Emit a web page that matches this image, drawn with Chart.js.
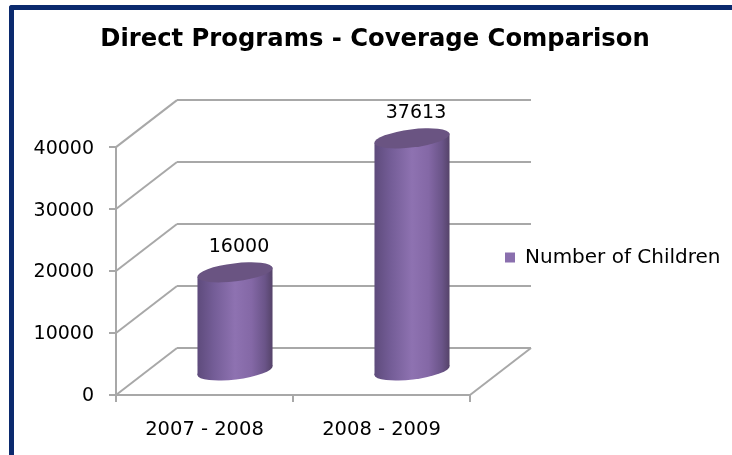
<!DOCTYPE html>
<html>
<head>
<meta charset="utf-8">
<title>Direct Programs - Coverage Comparison</title>
<script src="https://cdn.jsdelivr.net/npm/chart.js@4"></script>
<style>
  html, body { margin: 0; padding: 0; background: #fff; overflow: hidden; }
  .frame {
    position: absolute; left: 9px; top: 5px; right: 0; bottom: 0;
    border-left: 5px solid #0b2a6e; border-top: 5px solid #0b2a6e;
    border-top-left-radius: 3px;
  }
  .wrap { position: absolute; left: 18px; top: 0; width: 714px; height: 455px; }
</style>
</head>
<body>
<div class="frame"></div>
<div class="wrap"><canvas id="coverageChart" width="714" height="455"></canvas></div>
<script>
const years = ['2007 - 2008', '2008 - 2009'];
const children = [16000, 37613];
const yTicks = [0, 10000, 20000, 30000, 40000];

const FONT = '"DejaVu Sans", Verdana, sans-serif';
const GRID = '#a8a8a8';
const DEPTH_X = 61;   // how far the back wall sits behind the front axes
const DEPTH_Y = 47;

function line(ctx, x1, y1, x2, y2) {
  ctx.beginPath();
  ctx.moveTo(x1, y1);
  ctx.lineTo(x2, y2);
  ctx.stroke();
}

// Floor and back wall of the fake 3D box
const wallPlugin = {
  id: 'wall',
  beforeDatasetsDraw(chart) {
    const { ctx, scales: { x, y } } = chart;
    ctx.save();
    ctx.strokeStyle = GRID;
    ctx.lineWidth = 2;
    yTicks.forEach(v => {
      const py = y.getPixelForValue(v);
      line(ctx, x.left, py, x.left + DEPTH_X, py - DEPTH_Y);
      line(ctx, x.left + DEPTH_X, py - DEPTH_Y, x.right + DEPTH_X, py - DEPTH_Y);
    });
    const floor = y.getPixelForValue(0);
    line(ctx, x.right, floor, x.right + DEPTH_X, floor - DEPTH_Y);
    ctx.restore();
  }
};

function tiltedEllipse(ctx, cx, cy, rx, ry) {
  ctx.beginPath();
  ctx.ellipse(cx, cy, rx, ry, -7 * Math.PI / 180, 0, Math.PI * 2);
}

// Bars are drawn as shaded cylinders standing mid-way into the box
const cylinderPlugin = {
  id: 'cylinder',
  beforeDatasetDraw(chart, args) {
    const { ctx } = chart;
    const bars = chart.getDatasetMeta(args.index).data;
    bars.forEach((bar, i) => {
      const cx = bar.x + DEPTH_X / 2;
      const rx = bar.width / 2;
      const top = bar.y - DEPTH_Y / 2;
      const base = bar.base - DEPTH_Y / 2;
      const ry = 9;
      const dy = rx * Math.tan(7 * Math.PI / 180);

      const grad = ctx.createLinearGradient(cx - rx, 0, cx + rx, 0);
      grad.addColorStop(0, '#5e4b7c');
      grad.addColorStop(0.22, '#745d97');
      grad.addColorStop(0.5, '#8e72b1');
      grad.addColorStop(0.72, '#8468a6');
      grad.addColorStop(0.9, '#6a5488');
      grad.addColorStop(1, '#554369');

      ctx.save();
      ctx.fillStyle = grad;
      ctx.beginPath();
      ctx.moveTo(cx - rx, top + dy);
      ctx.lineTo(cx - rx, base + dy);
      ctx.lineTo(cx + rx, base - dy);
      ctx.lineTo(cx + rx, top - dy);
      ctx.closePath();
      ctx.fill();
      tiltedEllipse(ctx, cx, base, rx + 0.4, ry);
      ctx.fill();
      ctx.fillStyle = '#6a5482';
      tiltedEllipse(ctx, cx, top, rx + 0.4, ry);
      ctx.fill();

      ctx.fillStyle = '#000';
      ctx.font = '19px ' + FONT;
      ctx.textAlign = 'center';
      ctx.textBaseline = 'middle';
      ctx.fillText(String(children[i]), cx + 4, top - 25);
      ctx.restore();
    });
    return false;
  }
};

// The legend sits lower than the middle of the canvas and close to the plot
const legendShiftPlugin = {
  id: 'legendShift',
  afterLayout(chart) {
    chart.legend.top += 30;
    chart.legend.bottom += 30;
    chart.legend.left -= 11;
    chart.legend.right -= 11;
  }
};

new Chart(document.getElementById('coverageChart'), {
  type: 'bar',
  data: {
    labels: years,
    datasets: [{
      label: 'Number of Children',
      data: children,
      backgroundColor: '#8a6fae',
      barPercentage: 0.424,
      categoryPercentage: 1
    }]
  },
  plugins: [wallPlugin, cylinderPlugin, legendShiftPlugin],
  options: {
    responsive: false,
    animation: false,
    layout: { padding: 0 },
    scales: {
      x: {
        grid: { display: true, drawOnChartArea: false, color: GRID, lineWidth: 2, tickLength: 7, offset: true },
        border: { color: GRID, width: 2 },
        ticks: { color: '#000', font: { family: FONT, size: 19.5 }, padding: 16, maxRotation: 0 },
        afterFit(scale) { scale.height = 60; }
      },
      y: {
        min: 0,
        max: 40000,
        afterBuildTicks(scale) { scale.ticks = yTicks.map(v => ({ value: v })); },
        grid: { display: true, drawOnChartArea: false, color: GRID, lineWidth: 2, tickLength: 7 },
        border: { color: GRID, width: 2 },
        ticks: { color: '#000', font: { family: FONT, size: 19 }, padding: 15, labelOffset: 1.5, callback: v => String(v) },
        afterFit(scale) { scale.width = 98; }
      }
    },
    plugins: {
      title: {
        display: true,
        text: 'Direct Programs - Coverage Comparison',
        color: '#000',
        font: { family: FONT, size: 24.25, weight: 'bold' },
        padding: { top: 25, bottom: 93 }
      },
      legend: {
        position: 'right',
        maxWidth: 262,
        labels: {
          color: '#000',
          font: { family: FONT, size: 20 },
          boxWidth: 10,
          boxHeight: 10,
          padding: 46
        }
      },
      tooltip: { enabled: false }
    }
  }
});
</script>
</body>
</html>
